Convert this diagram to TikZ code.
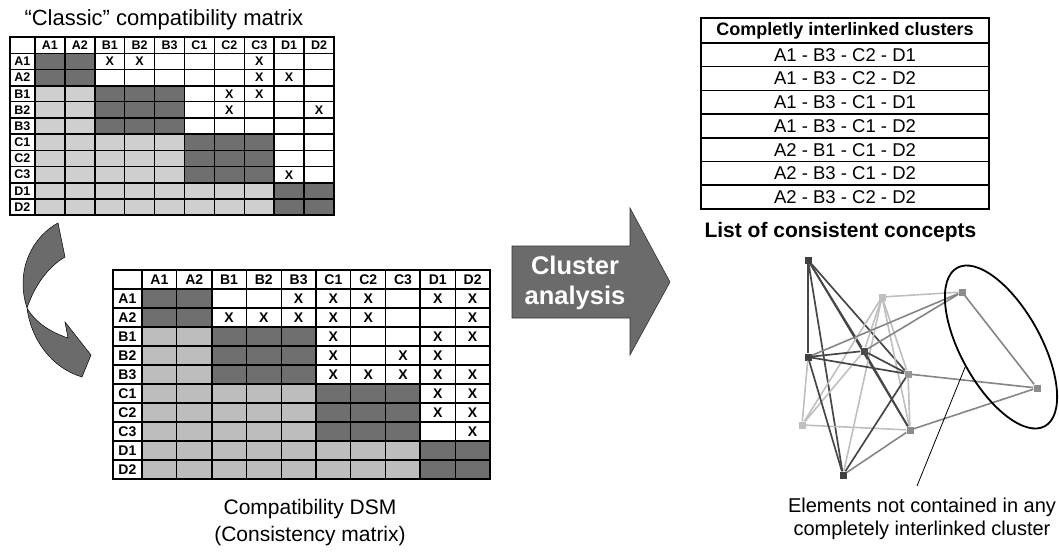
\documentclass[tikz,border=0pt]{standalone}
\usepackage{fontspec}
\setmainfont{Liberation Sans}
\usetikzlibrary{positioning,shapes.geometric}

\definecolor{blockdark}{HTML}{6F6F6F}
\definecolor{blocklight}{HTML}{CFCFCF}
\definecolor{blocklightb}{HTML}{BDBDBD}
\definecolor{arrowgray}{HTML}{6B6B6B}

\def\dsmlabels{A1,A2,B1,B2,B3,C1,C2,C3,D1,D2}
\def\dsmgroups{1/1,2/1,3/2,4/2,5/2,6/3,7/3,8/3,9/4,10/4}

\tikzset{
  dsmcell/.style={draw=black, line width=1.3pt},
  groupline/.style={draw=black, line width=1.9pt},
  tabrow/.style={draw, line width=1.5pt, minimum width=288pt, minimum height=23.7pt,
    inner sep=0pt, font=\fontsize{18.5}{18.5}\selectfont},
  gnode/.style={rectangle, minimum size=7pt, inner sep=0pt},
  edgedk/.style={draw=black!72, line width=1.7pt},
  edgemd/.style={draw=black!48, line width=1.6pt},
  edgelt/.style={draw=black!25, line width=1.6pt},
}

\begin{document}
\begin{tikzpicture}[x=1pt, y=1pt]
\useasboundingbox (0,0) rectangle (1059,-551);

% classic compatibility matrix
\node[anchor=base west, font=\fontsize{22}{22}\selectfont] (classictitle) at (21,-26) {“Classic” compatibility matrix};
\begin{scope}[shift={(35pt,-37pt)}, x=29.9pt, y=-16.2pt, font=\fontsize{12.5}{12.5}\selectfont\bfseries]
  \draw[dsmcell, fill=white] (-0.84,0) rectangle (0,1);
  \foreach \lab [count=\i] in \dsmlabels {
    \draw[dsmcell, fill=white] (\i-1,0) rectangle (\i,1);
    \draw[dsmcell, fill=white] (-0.84,\i) rectangle (0,\i+1);
    \node (cm-col\i) at (\i-0.5,0.5) {\lab};
    \node (cm-row\i) at (-0.42,\i+0.5) {\lab};
  }
  \foreach \r/\gr in \dsmgroups
    \foreach \c/\gc in \dsmgroups {
      \ifnum\gr=\gc\def\cellcol{blockdark}\else\ifnum\gr<\gc\def\cellcol{white}\else\def\cellcol{blocklight}\fi\fi
      \draw[dsmcell, fill=\cellcol] (\c-1,\r) rectangle (\c,\r+1);
    }
  \foreach \k in {2,5,8} {
    \draw[groupline] (\k,0) -- (\k,11);
    \draw[groupline] (-0.84,\k+1) -- (10,\k+1);
  }
  \draw[groupline] (-0.84,0) rectangle (10,11);
  \foreach \r/\c in {1/3,1/4,1/8,2/8,2/9,3/7,3/8,4/7,4/10,8/9}
    \node (cm-x\r-\c) at (\c-0.5,\r+0.5) {X};
\end{scope}

% turning arrow
\filldraw[fill=arrowgray, draw=black, line width=0.5pt]
  (58,-223) .. controls (35,-235) and (14,-268) .. (27,-308)
  .. controls (31,-340) and (52,-368) .. (82,-377)
  -- (91,-355) -- (65,-322) -- (68,-338)
  .. controls (50,-332) and (35,-322) .. (27,-308)
  .. controls (35,-285) and (48,-267) .. (65,-257) -- cycle;

% compatibility DSM
\begin{scope}[shift={(142pt,-270pt)}, x=34.8pt, y=-19pt, font=\fontsize{14}{14}\selectfont\bfseries]
  \draw[dsmcell, fill=white] (-0.84,0) rectangle (0,1);
  \foreach \lab [count=\i] in \dsmlabels {
    \draw[dsmcell, fill=white] (\i-1,0) rectangle (\i,1);
    \draw[dsmcell, fill=white] (-0.84,\i) rectangle (0,\i+1);
    \node (dsm-col\i) at (\i-0.5,0.5) {\lab};
    \node (dsm-row\i) at (-0.42,\i+0.5) {\lab};
  }
  \foreach \r/\gr in \dsmgroups
    \foreach \c/\gc in \dsmgroups {
      \ifnum\gr=\gc\def\cellcol{blockdark}\else\ifnum\gr<\gc\def\cellcol{white}\else\def\cellcol{blocklightb}\fi\fi
      \draw[dsmcell, fill=\cellcol] (\c-1,\r) rectangle (\c,\r+1);
    }
  \foreach \k in {2,5,8} {
    \draw[groupline] (\k,0) -- (\k,11);
    \draw[groupline] (-0.84,\k+1) -- (10,\k+1);
  }
  \draw[groupline] (-0.84,0) rectangle (10,11);
  \foreach \r/\c in {1/5,1/6,1/7,1/9,1/10,2/3,2/4,2/5,2/6,2/7,2/10,3/6,3/9,3/10,4/6,4/8,4/9,
                     5/6,5/7,5/8,5/9,5/10,6/9,6/10,7/9,7/10,8/10}
    \node (dsm-x\r-\c) at (\c-0.5,\r+0.5) {X};
\end{scope}
\node[anchor=north, align=center, font=\fontsize{21}{27}\selectfont] (dsmcaption) at (310,-496)
  {Compatibility DSM\\(Consistency matrix)};

% cluster analysis arrow
\filldraw[fill=arrowgray, draw=black!80, line width=0.6pt]
  (512,-246) -- (630,-246) -- (630,-208) -- (670,-282) -- (630,-355) -- (630,-318) -- (512,-318) -- cycle;
\node[text=white, align=center, font=\fontsize{25.5}{30}\selectfont\bfseries] (analysis) at (575,-283)
  {Cluster\\analysis};

% list of consistent concepts
\node[tabrow, line width=2pt, minimum height=25pt, font=\fontsize{18}{18}\selectfont\bfseries] (clhead) at (845,-30.5)
  {Completly interlinked clusters};
\foreach \txt [count=\i] in {A1 - B3 - C2 - D1, A1 - B3 - C2 - D2, A1 - B3 - C1 - D1, A1 - B3 - C1 - D2,
                              A2 - B1 - C1 - D2, A2 - B3 - C1 - D2, A2 - B3 - C2 - D2}
  \node[tabrow] (cl-\i) at (845,{-43-23.7*(\i-0.5)}) {\txt};
\node[anchor=base west, font=\fontsize{21}{21}\selectfont\bfseries] (conceptlist) at (701,-237)
  {List of consistent concepts};

% compatibility graph
\foreach \nm/\px/\py/\col in {A1/808/260/black!75, A2/882/297/black!25, B1/802/425/black!25,
    B2/962/292/black!45, B3/908/374/black!40, C1/864/351/black!70, C2/843/475/black!75,
    C3/1037/388/black!45, D1/808/357/black!75, D2/910/430/black!45}
  \node[gnode, fill=\col] (g\nm) at (\px,-\py) {};
\foreach \u/\v/\sty in {A1/B3/edgedk, A1/C1/edgedk, A1/C2/edgedk, A1/D1/edgedk, A1/D2/edgedk,
    A2/B1/edgelt, A2/B2/edgelt, A2/B3/edgelt, A2/C1/edgelt, A2/C2/edgelt, A2/D2/edgelt,
    B1/C1/edgelt, B1/D1/edgelt, B1/D2/edgelt, B2/C1/edgemd, B2/C3/edgemd, B2/D1/edgemd,
    B3/C1/edgedk, B3/C2/edgedk, B3/C3/edgemd, B3/D1/edgedk, B3/D2/edgelt,
    C1/D1/edgedk, C1/D2/edgedk, C2/D1/edgedk, C2/D2/edgemd, C3/D2/edgemd}
  \draw[\sty] (g\u) -- (g\v);

\node[draw, ellipse, line width=1.8pt, minimum width=181pt, minimum height=80pt, inner sep=0pt,
  rotate=-61] (outliers) at (1001,-347) {};
\node[anchor=north, align=center, font=\fontsize{20}{23}\selectfont] (outliernote) at (922,-494)
  {Elements not contained in any\\completely interlinked cluster};
\draw[line width=0.8pt] (outliers.south) -- ([xshift=-5pt,yshift=8pt]outliernote.north);
\end{tikzpicture}
\end{document}
